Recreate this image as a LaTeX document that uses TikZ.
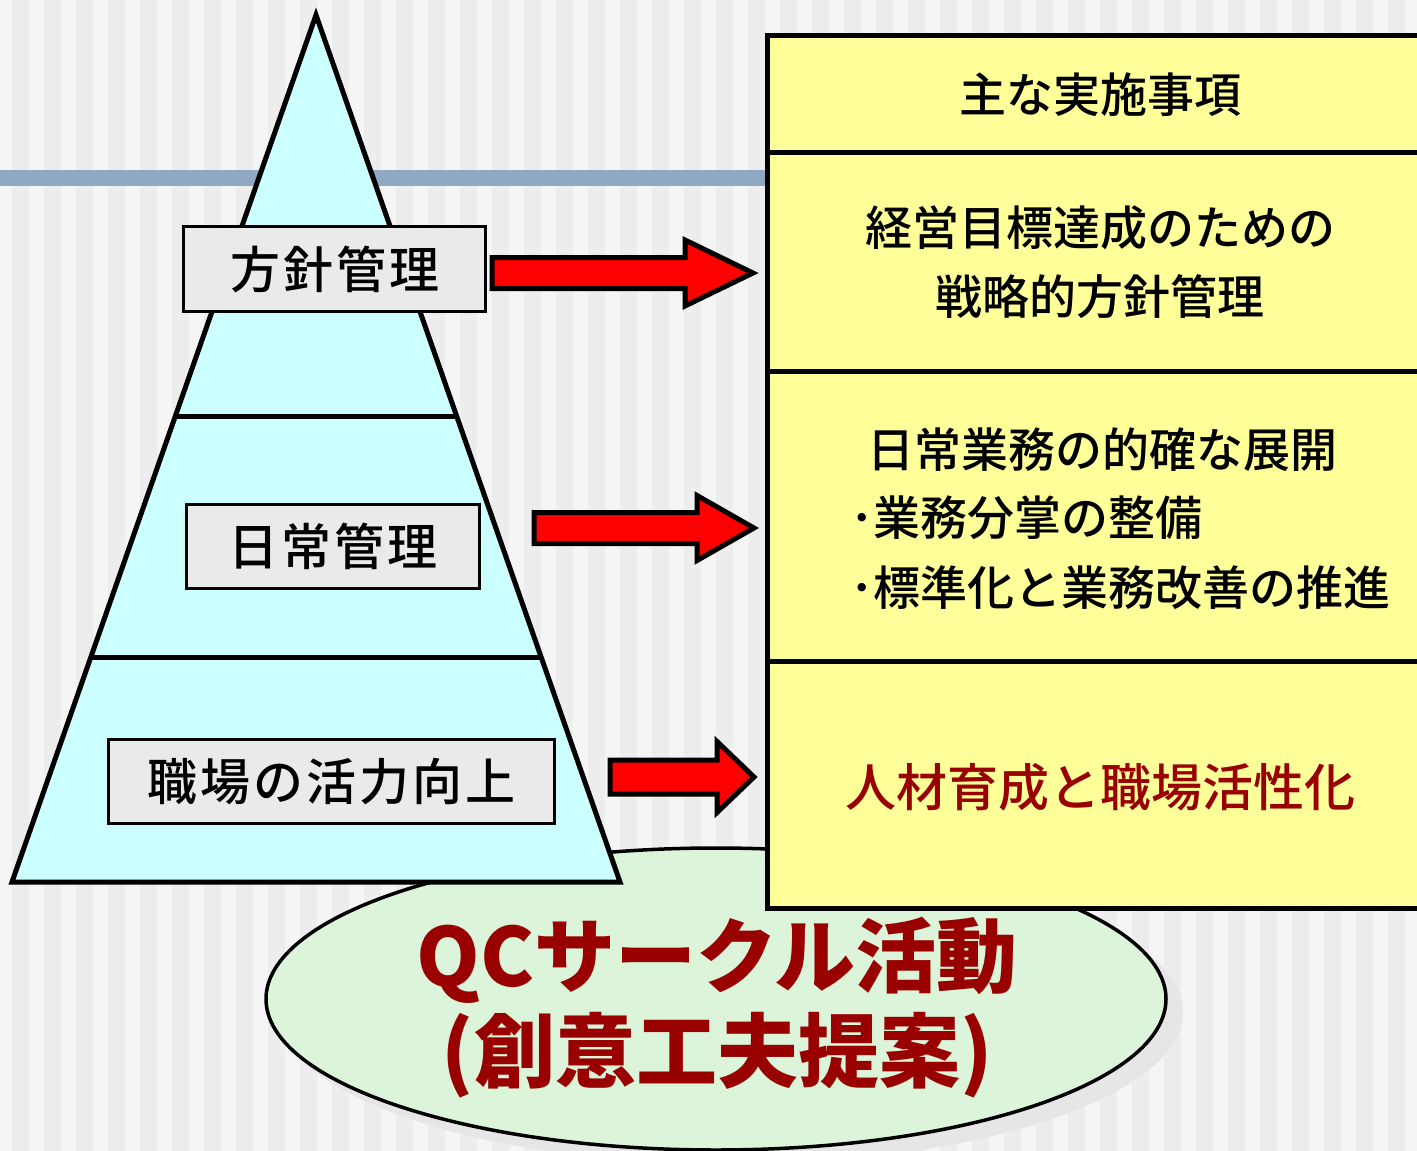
\documentclass[tikz,border=0pt]{standalone}
\usepackage{xcolor}
\usepackage{fontspec}
\usepackage{tikz}
\usetikzlibrary{shapes.geometric}
\usetikzlibrary{calc}
\newfontfamily\jpfont{Noto Sans CJK JP}
\IfFontExistsTF{Noto Sans CJK JP Medium}
	{\newfontfamily\jpmedium{Noto Sans CJK JP Medium}}
	{\newcommand{\jpmedium}{\jpfont\bfseries}}
\definecolor{paper}{HTML}{F5F5F5}
\definecolor{stripe}{HTML}{EDEDED}
\definecolor{band}{HTML}{8FA8C3}
\definecolor{tierfill}{HTML}{CCFFFF}
\definecolor{boxgray}{HTML}{EAEAEA}
\definecolor{rowyellow}{HTML}{FFFF99}
\definecolor{qcgreen}{HTML}{DBF4DA}
\definecolor{qcshadow}{HTML}{E6E6E6}
\definecolor{darkred}{HTML}{990000}
% block arrow: start, tip, shaft half, head half, head length
\newcommand{\blockarrow}[5]{
	\draw[blockarrow] let \p1=(#1), \p2=(#2) in
		(\x1,\y1+#3) -- (\x2-#5,\y1+#3) -- (\x2-#5,\y1+#4) -- (\x2,\y1)
		-- (\x2-#5,\y1-#4) -- (\x2-#5,\y1-#3) -- (\x1,\y1-#3) -- cycle;
}

\begin{document}
\begin{tikzpicture}[x=1pt,y=-1pt,
	tierbox/.style={draw=black,line width=3pt,fill=boxgray,inner sep=0pt,
		font=\jpmedium\fontsize{50}{60}\selectfont\addfontfeature{LetterSpace=6}},
	rowbox/.style={draw=black,line width=5pt,fill=rowyellow,anchor=north west,
		minimum width=680pt,inner sep=0pt},
	rowtext/.style={font=\jpmedium\fontsize{47}{69}\selectfont,align=center,inner sep=0pt},
	qctext/.style={font=\jpfont\bfseries\fontsize{81}{95}\selectfont,text=darkred,inner sep=0pt},
	blockarrow/.style={draw=black,line width=5pt,fill=red}]
	\pgfmathsetmacro{\stripeStep}{32}
	\useasboundingbox (0,0) rectangle (1417,1151);
	
	% background stripes
	\fill[paper] (0,0) rectangle (1417,1151);
	\foreach \x in {12,44,...,1417} {
		\fill[stripe] (\x,0) rectangle (\x+17,1151);
	}
	\fill[band] (0,170) rectangle (770,186);
	
	% base ellipse
	\fill[qcshadow] (731,1012) ellipse [x radius=452, y radius=152];
	\node[ellipse,draw=black,line width=3.5pt,fill=qcgreen,minimum width=900pt,minimum height=302pt,inner sep=0pt] (qc) at (716,999) {};
	
	% pyramid with two dividers
	\coordinate (apex) at (316,15);
	\coordinate (baseL) at (12,882);
	\coordinate (baseR) at (620,882);
	\draw[line width=5pt,fill=tierfill] (apex) -- (baseR) -- (baseL) -- cycle;
	\foreach \y in {417,657} {
		\draw[line width=5pt] ($(apex)!{(\y-15)/867}!(baseL)$) -- ($(apex)!{(\y-15)/867}!(baseR)$);
	}
	
	% table of main items
	\node[rowbox,minimum height=117pt] (head) at (765,33) {};
	\node[rowbox,minimum height=219pt] (row1) at (765,150) {};
	\node[rowbox,minimum height=290pt] (row2) at (765,369) {};
	\node[rowbox,minimum height=247pt] (row3) at (765,659) {};
	
	\node[rowtext] (headtxt) at (1100,95) {主な実施事項};
	\node[rowtext] (row1txt) at (1100,262) {経営目標達成のための\\戦略的方針管理};
	\node[rowtext] (row2txt) at (1102,450) {日常業務の的確な展開};
	\node[rowtext,anchor=west] (row2a) at (850,518) {･業務分掌の整備};
	\node[rowtext,anchor=west] (row2b) at (850,588) {･標準化と業務改善の推進};
	\node[rowtext,text=darkred,font=\jpmedium\fontsize{51}{60}\selectfont] (row3txt) at (1100,787) {人材育成と職場活性化};
	
	% labels on the pyramid
	\node[tierbox,minimum width=302pt,minimum height=85pt] (hoshin) at (334.5,269) {方針管理};
	\node[tierbox,minimum width=293pt,minimum height=84pt] (nichijo) at (333,546.5) {日常管理};
	\node[tierbox,minimum width=446pt,minimum height=84pt] (shokuba) at (331.5,781.5) {職場の活力向上};
	
	% arrows from the tiers to the table
	\coordinate (a1s) at ($(hoshin.east)+(5,4)$);
	\coordinate (a1t) at ($(a1s -| row1.west)+(-12,0)$);
	\coordinate (a2s) at ($(nichijo.east)+(53,-18.5)$);
	\coordinate (a2t) at ($(a2s -| row2.west)+(-11,0)$);
	\coordinate (a3s) at ($(shokuba.east)+(54,-4.5)$);
	\coordinate (a3t) at ($(a3s -| row3.west)+(-11,0)$);
	\blockarrow{a1s}{a1t}{15.5}{33}{68}
	\blockarrow{a2s}{a2t}{15.5}{32.5}{57}
	\blockarrow{a3s}{a3t}{17}{35.5}{37}
	
	% text in the ellipse
	\node[qctext] (qc1) at (717,960) {QCサークル活動};
	\node[qctext] (qc2) at (717,1055) {(創意工夫提案)};
\end{tikzpicture}
\end{document}
